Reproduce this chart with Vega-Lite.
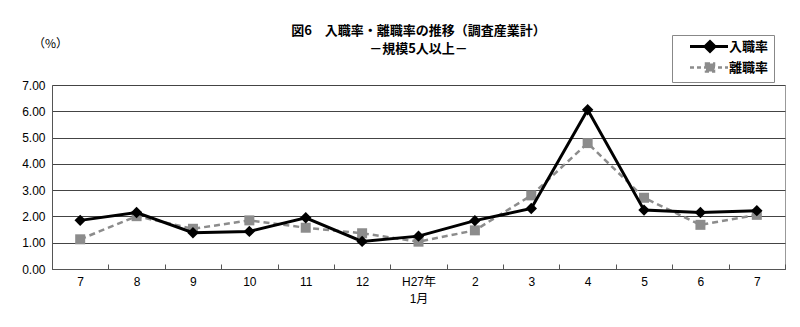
{
  "$schema": "https://vega.github.io/schema/vega-lite/v6.json",
  "autosize": "none",
  "width": 733,
  "height": 184,
  "padding": {"left": 52, "top": 85, "right": 15, "bottom": 58},
  "background": "white",
  "config": {
    "view": {"stroke": "#999", "strokeWidth": 1},
    "font": "Liberation Sans, Noto Sans CJK JP"
  },
  "title": {
    "text": "図6　入職率・離職率の推移（調査産業計）",
    "subtitle": "－規模5人以上－",
    "anchor": "middle",
    "font": "Noto Sans CJK JP",
    "fontSize": 13,
    "fontWeight": "bold",
    "subtitleFont": "Noto Sans CJK JP",
    "subtitleFontSize": 13,
    "subtitleFontWeight": "bold",
    "subtitleColor": "#000",
    "subtitlePadding": 5,
    "offset": -21,
    "color": "#000"
  },
  "data": {
    "values": [
      {"月": "H26.7", "系列": "入職率", "値": 1.85},
      {"月": "H26.8", "系列": "入職率", "値": 2.15},
      {"月": "H26.9", "系列": "入職率", "値": 1.38},
      {"月": "H26.10", "系列": "入職率", "値": 1.43},
      {"月": "H26.11", "系列": "入職率", "値": 1.95},
      {"月": "H26.12", "系列": "入職率", "値": 1.05},
      {"月": "H27.1", "系列": "入職率", "値": 1.25},
      {"月": "H27.2", "系列": "入職率", "値": 1.84},
      {"月": "H27.3", "系列": "入職率", "値": 2.30},
      {"月": "H27.4", "系列": "入職率", "値": 6.06},
      {"月": "H27.5", "系列": "入職率", "値": 2.24},
      {"月": "H27.6", "系列": "入職率", "値": 2.15},
      {"月": "H27.7", "系列": "入職率", "値": 2.22},
      {"月": "H26.7", "系列": "離職率", "値": 1.13},
      {"月": "H26.8", "系列": "離職率", "値": 2.01},
      {"月": "H26.9", "系列": "離職率", "値": 1.53},
      {"月": "H26.10", "系列": "離職率", "値": 1.85},
      {"月": "H26.11", "系列": "離職率", "値": 1.57},
      {"月": "H26.12", "系列": "離職率", "値": 1.36},
      {"月": "H27.1", "系列": "離職率", "値": 1.04},
      {"月": "H27.2", "系列": "離職率", "値": 1.47},
      {"月": "H27.3", "系列": "離職率", "値": 2.80},
      {"月": "H27.4", "系列": "離職率", "値": 4.79},
      {"月": "H27.5", "系列": "離職率", "値": 2.71},
      {"月": "H27.6", "系列": "離職率", "値": 1.68},
      {"月": "H27.7", "系列": "離職率", "値": 2.06}
    ]
  },
  "encoding": {
    "x": {
      "field": "月",
      "type": "nominal",
      "sort": null,
      "scale": {"type": "band", "paddingInner": 0, "paddingOuter": 0},
      "axis": {
        "title": null,
        "labelAngle": 0,
        "labelExpr": "datum.value == 'H27.1' ? ['H27年', '1月'] : split(datum.value, '.')[1]",
        "labelFontSize": 12,
        "labelColor": "#000",
        "labelPadding": 12,
        "labelLineHeight": 17,
        "tickBand": "extent",
        "tickSize": -5,
        "tickColor": "#555",
        "domainColor": "#555",
        "grid": false
      }
    },
    "y": {
      "field": "値",
      "type": "quantitative",
      "scale": {"domain": [0, 7], "nice": false},
      "axis": {
        "title": "（%）",
        "titleAngle": 0,
        "titleX": -2,
        "titleY": -42,
        "titleAlign": "center",
        "titleBaseline": "middle",
        "titleFont": "Noto Sans CJK JP",
        "titleFontSize": 12,
        "titleFontWeight": "normal",
        "titleColor": "#000",
        "values": [0, 1, 2, 3, 4, 5, 6, 7],
        "format": ".2f",
        "labelFontSize": 12,
        "labelColor": "#000",
        "labelPadding": 7,
        "ticks": false,
        "domainColor": "#555",
        "gridColor": "#444",
        "gridOpacity": 1
      }
    },
    "color": {
      "field": "系列",
      "type": "nominal",
      "scale": {"domain": ["入職率", "離職率"], "range": ["#000000", "#8c8c8c"]},
      "legend": {
        "title": null,
        "orient": "none",
        "legendX": 620,
        "legendY": -50,
        "strokeColor": "#888",
        "fillColor": "white",
        "padding": 5,
        "labelFont": "Noto Sans CJK JP",
        "labelFontSize": 13,
        "labelFontWeight": "bold",
        "labelColor": "#000",
        "symbolSize": 25,
        "symbolStrokeWidth": 1,
        "labelOffset": 39,
        "rowPadding": 0,
        "labelBaseline": "middle",
        "encode": {
          "symbols": {
            "update": {
              "shape": {"signal": "datum.value === '入職率' ? 'M2.6,0H17.8M10.6,-2L12.6,0L10.6,2L8.6,0Z' : 'M2.6,0H17.8M9,-1.6H12.2V1.6H9Z'"},
              "strokeDash": {"signal": "datum.value === '入職率' ? [] : [4, 3]"},
              "strokeWidth": {"signal": "datum.value === '入職率' ? 3 : 2.5"},
              "fill": {"signal": "datum.value === '入職率' ? '#000000' : '#8c8c8c'"},
              "stroke": {"signal": "datum.value === '入職率' ? '#000000' : '#8c8c8c'"},
              "opacity": {"value": 1},
              "fillOpacity": {"value": 1}
            }
          }
        }
      }
    }
  },
  "layer": [
    {
      "transform": [{"filter": "datum['系列'] === '離職率'"}],
      "mark": {"type": "line", "strokeWidth": 2.5, "strokeDash": [6, 4]}
    },
    {
      "transform": [{"filter": "datum['系列'] === '離職率'"}],
      "mark": {"type": "point", "shape": "square", "filled": true, "size": 100, "opacity": 1}
    },
    {
      "transform": [{"filter": "datum['系列'] === '入職率'"}],
      "mark": {"type": "line", "strokeWidth": 3}
    },
    {
      "transform": [{"filter": "datum['系列'] === '入職率'"}],
      "mark": {"type": "point", "shape": "diamond", "filled": true, "size": 130, "opacity": 1}
    }
  ]
}
